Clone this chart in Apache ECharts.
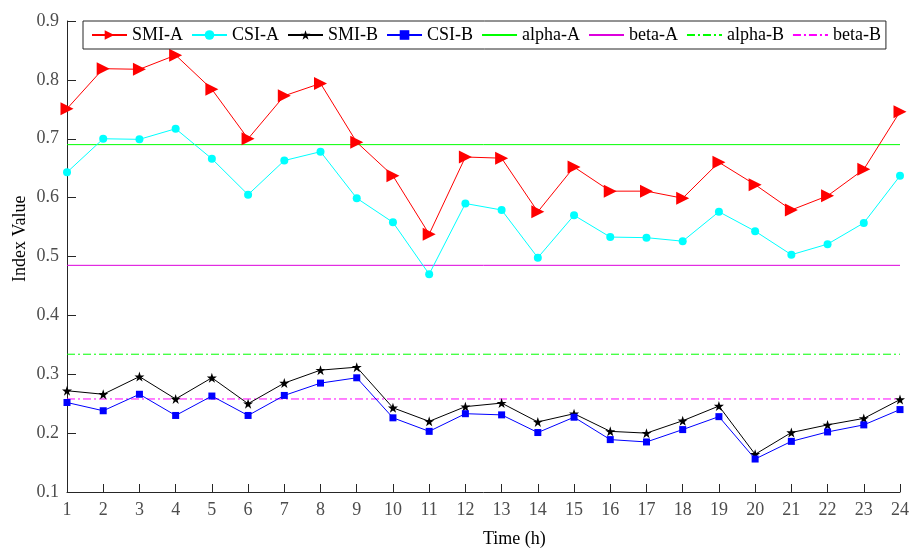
<!DOCTYPE html>
<html>
<head>
<meta charset="utf-8">
<title>Index Value</title>
<script src="https://cdn.jsdelivr.net/npm/echarts@6/dist/echarts.min.js"></script>
<style>
  html, body { margin: 0; padding: 0; background: #fff; }
  #main { width: 912px; height: 550px; }
</style>
</head>
<body>
<div id="main"></div>
<script>
// 时间 (h)
var hours = [1, 2, 3, 4, 5, 6, 7, 8, 9, 10, 11, 12, 13, 14, 15, 16, 17, 18, 19, 20, 21, 22, 23, 24];
// 各指标数据
var smiA = [0.751, 0.819, 0.818, 0.842, 0.784, 0.700, 0.773, 0.794, 0.694, 0.637, 0.538, 0.669,
            0.667, 0.576, 0.652, 0.611, 0.611, 0.599, 0.660, 0.622, 0.579, 0.603, 0.648, 0.746];
var csiA = [0.643, 0.700, 0.699, 0.717, 0.666, 0.605, 0.663, 0.678, 0.599, 0.558, 0.470, 0.590,
            0.579, 0.498, 0.570, 0.533, 0.532, 0.526, 0.576, 0.543, 0.503, 0.521, 0.557, 0.637];
var smiB = [0.272, 0.266, 0.296, 0.258, 0.294, 0.250, 0.285, 0.307, 0.312, 0.243, 0.220, 0.245,
            0.251, 0.219, 0.233, 0.203, 0.200, 0.221, 0.246, 0.164, 0.201, 0.214, 0.225, 0.257];
var csiB = [0.252, 0.238, 0.266, 0.230, 0.263, 0.230, 0.264, 0.285, 0.294, 0.226, 0.203, 0.233,
            0.231, 0.201, 0.227, 0.189, 0.185, 0.206, 0.228, 0.156, 0.186, 0.202, 0.214, 0.240];
// 阈值
var alphaA = 0.690;
var betaA = 0.485;
var alphaB = 0.334;
var betaB = 0.258;
var yTicks = [0.1, 0.2, 0.3, 0.4, 0.5, 0.6, 0.7, 0.8, 0.9];

var FONT = '"Liberation Serif", "Times New Roman", serif';
var starPath = 'path://M50,0 L61.8,35.1 L98.9,35.1 L69,57.3 L80.3,92.7 L50,70.8 L19.7,92.7 L31,57.3 L1.1,35.1 L38.2,35.1 Z';

function pairs(values){
    return values.map(function(v, i){ return [hours[i], v]; });
}
// 水平阈值线 (两端点)
function level(v){
    return [[hours[0], v], [hours[hours.length - 1], v]];
}
function dataSeries(name, values, color, symbol, size, rotate){
    return {
        name: name,
        type: 'line',
        data: pairs(values),
        symbol: symbol,
        symbolSize: size,
        symbolRotate: rotate || 0,
        showSymbol: true,
        z: 3,
        itemStyle: { color: color },
        lineStyle: { color: color, width: 1 }
    };
}
function levelSeries(name, v, color, dashed){
    return {
        name: name,
        type: 'line',
        data: level(v),
        symbol: 'none',
        z: 2,
        itemStyle: { color: color },
        lineStyle: { color: color, width: 1, type: dashed ? [8, 3, 2, 3] : 'solid' }
    };
}
// 阈值线图例只显示线段
function lineOnly(name){
    return { name: name, itemStyle: { opacity: 0 } };
}

var myChart = echarts.init(document.getElementById('main'));
var option = {
    animation: false,
    backgroundColor: '#fff',
    textStyle: { fontFamily: FONT },
    grid: { left: 67, right: 10, top: 21, bottom: 58 },
    legend: {
        left: 83,
        top: 21,
        orient: 'horizontal',
        padding: [5, 5, 5, 8],
        itemWidth: 35,
        itemHeight: 12,
        itemGap: 8,
        backgroundColor: '#fff',
        borderColor: '#262626',
        borderWidth: 1,
        borderRadius: 0,
        textStyle: { fontFamily: FONT, fontSize: 18, color: '#000' },
        data: ['SMI-A', 'CSI-A', 'SMI-B', 'CSI-B',
               lineOnly('alpha-A'), lineOnly('beta-A'), lineOnly('alpha-B'), lineOnly('beta-B')]
    },
    xAxis: {
        type: 'value',
        min: 1,
        max: 24,
        interval: 1,
        axisLine: { show: true, lineStyle: { color: '#262626', width: 1 } },
        axisTick: { show: true, inside: true, length: 8, lineStyle: { color: '#262626' } },
        axisLabel: { fontFamily: FONT, fontSize: 18, color: '#4d4d4d', margin: 9 },
        splitLine: { show: false }
    },
    yAxis: {
        type: 'value',
        min: yTicks[0],
        max: yTicks[yTicks.length - 1],
        interval: 0.1,
        axisLine: { show: true, lineStyle: { color: '#262626', width: 1 } },
        axisTick: { show: true, inside: true, length: 9, lineStyle: { color: '#262626' } },
        axisLabel: {
            fontFamily: FONT, fontSize: 18, color: '#4d4d4d', margin: 8,
            formatter: function(v){ return v.toFixed(1); }
        },
        splitLine: { show: false }
    },
    graphic: [
        {
            type: 'text',
            left: 483,
            top: 530,
            style: { text: 'Time (h)', font: '18px ' + FONT, fill: '#000' }
        },
        {
            type: 'text',
            x: 11,
            y: 282,
            rotation: Math.PI / 2,
            style: { text: 'Index Value', font: '18px ' + FONT, fill: '#000' }
        }
    ],
    series: [
        dataSeries('SMI-A', smiA, '#ff0000', 'triangle', 13, -90),
        dataSeries('CSI-A', csiA, '#00ffff', 'circle', 8),
        dataSeries('SMI-B', smiB, '#000000', starPath, 10),
        dataSeries('CSI-B', csiB, '#0000ff', 'rect', 7),
        levelSeries('alpha-A', alphaA, '#00ff00', false),
        levelSeries('beta-A', betaA, '#dd00dd', false),
        levelSeries('alpha-B', alphaB, '#00ff00', true),
        levelSeries('beta-B', betaB, '#ff00ff', true)
    ]
};
myChart.setOption(option);
</script>
</body>
</html>
